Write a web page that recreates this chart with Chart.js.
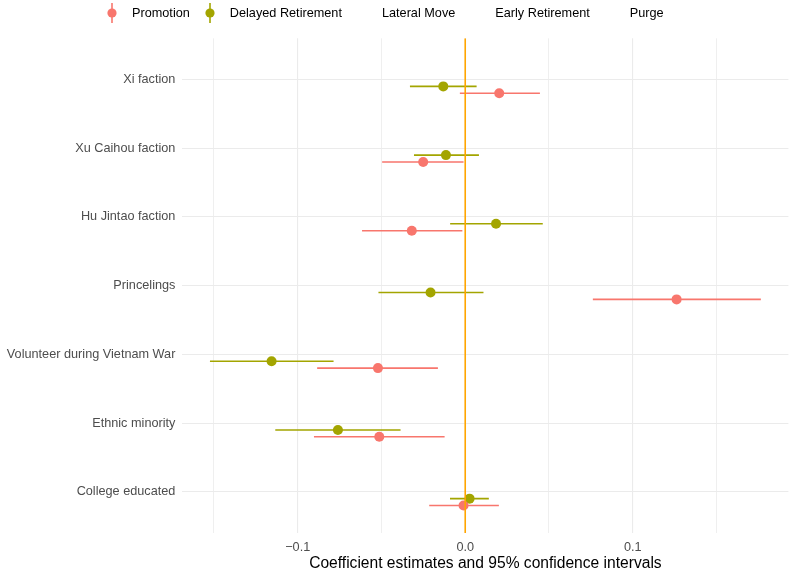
<!DOCTYPE html>
<html>
<head>
<meta charset="utf-8">
<script src="https://cdn.jsdelivr.net/npm/chart.js@4/dist/chart.umd.min.js"></script>
<style>
  html, body { margin: 0; padding: 0; background: #ffffff; }
  #wrap { position: relative; width: 790px; height: 574px; overflow: hidden; }
  #chart { position: absolute; left: 0; top: 0; }
  #legend {
    position: absolute; left: 103px; top: 3px; height: 20px;
    display: flex; align-items: center;
    font-family: "Liberation Sans", Arial, sans-serif; font-size: 12.7px; color: #000;
  }
  .item { display: flex; align-items: center; margin-right: 11px; }
  .key { width: 18px; height: 20px; margin-right: 11px; }
</style>
</head>
<body>
<div id="wrap">
  <canvas id="chart" width="790" height="574"></canvas>
  <div id="legend"></div>
</div>
<script>
// Covariates (top to bottom)
const categories = [
  'Xi faction',
  'Xu Caihou faction',
  'Hu Jintao faction',
  'Princelings',
  'Volunteer during Vietnam War',
  'Ethnic minority',
  'College educated'
];

// Outcome models, in legend order
const outcomes = ['Promotion', 'Delayed Retirement', 'Lateral Move', 'Early Retirement', 'Purge'];
const outcomeColors = ['#F8766D', '#A3A500', '#00BF7D', '#00B0F6', '#E76BF3'];

// Promotion: estimate and 95% CI
const promotionEst  = [ 0.0203, -0.0251, -0.0319,  0.1262, -0.0521, -0.0513, -0.0010];
const promotionLow  = [-0.0032, -0.0496, -0.0616,  0.0762, -0.0884, -0.0903, -0.0215];
const promotionHigh = [ 0.0446, -0.0010, -0.0017,  0.1765, -0.0163, -0.0123,  0.0201];

// Delayed retirement: estimate and 95% CI
const delayedEst  = [-0.0131, -0.0115,  0.0184, -0.0207, -0.1156, -0.0760,  0.0026];
const delayedLow  = [-0.0330, -0.0306, -0.0090, -0.0518, -0.1524, -0.1134, -0.0091];
const delayedHigh = [ 0.0068,  0.0082,  0.0463,  0.0109, -0.0786, -0.0386,  0.0141];

// Remaining outcomes have no estimates for these covariates
const lateralEst = [], lateralLow = [], lateralHigh = [];
const earlyEst = [], earlyLow = [], earlyHigh = [];
const purgeEst = [], purgeLow = [], purgeHigh = [];

// x-axis ticks (labelled every 0.1, gridlines every 0.05)
const xTicks = [-0.15, -0.1, -0.05, 0, 0.05, 0.1, 0.15];

const series = [
  { est: promotionEst, low: promotionLow, high: promotionHigh },
  { est: delayedEst,   low: delayedLow,   high: delayedHigh },
  { est: lateralEst,   low: lateralLow,   high: lateralHigh },
  { est: earlyEst,     low: earlyLow,     high: earlyHigh },
  { est: purgeEst,     low: purgeLow,     high: purgeHigh }
];

// dodge the outcomes within each covariate row
const dodgeStep = 0.1;
const dodge = k => (Math.floor(outcomes.length / 2) - k) * dodgeStep;

// x limits: data range plus 5% on each side
const allX = series.flatMap(s => s.low.concat(s.high));
const xLo = Math.min(...allX), xHi = Math.max(...allX);
const xPad = (xHi - xLo) * 0.05;

const datasets = [];
// reference line at zero
datasets.push({
  type: 'line', label: 'zero', order: 0,
  data: [{ x: 0, y: -0.6 }, { x: 0, y: categories.length - 0.4 }],
  borderColor: '#FFA500', borderWidth: 1.6, pointRadius: 0, fill: false
});
series.forEach((s, k) => {
  if (!s.est.length) return;
  const whisker = [];
  s.est.forEach((_, i) => {
    const y = i + dodge(k);
    whisker.push({ x: s.low[i], y }, { x: s.high[i], y }, { x: null, y: null });
  });
  datasets.push({
    type: 'line', label: outcomes[k] + ' CI', order: 2,
    data: whisker, borderColor: outcomeColors[k], borderWidth: 1.6,
    pointRadius: 0, spanGaps: false, fill: false
  });
  datasets.push({
    type: 'scatter', label: outcomes[k], order: 1,
    data: s.est.map((v, i) => ({ x: v, y: i + dodge(k) })),
    backgroundColor: outcomeColors[k], borderWidth: 0,
    pointRadius: 5, pointHoverRadius: 5
  });
});

const isMajor = v => Math.abs(Math.round(v * 10) - v * 10) < 1e-9;
const fmt = v => {
  if (Math.abs(v) < 1e-12) return '0.0';
  return (v < 0 ? '\u2212' : '') + Math.abs(v).toFixed(1);
};

const tickFont = { family: '"Liberation Sans", Arial, sans-serif', size: 12.7 };

new Chart(document.getElementById('chart'), {
  type: 'scatter',
  data: { datasets },
  options: {
    responsive: false,
    animation: false,
    devicePixelRatio: 1,
    layout: { autoPadding: false, padding: { left: 0, right: 1.6, top: 38.3, bottom: 0 } },
    plugins: { legend: { display: false }, tooltip: { enabled: false } },
    scales: {
      x: {
        type: 'linear', min: xLo - xPad, max: xHi + xPad,
        afterBuildTicks: sc => { sc.ticks = xTicks.map(v => ({ value: v })); },
        afterFit: sc => { sc.height = 41; },
        border: { display: false },
        grid: {
          color: '#EBEBEB', drawTicks: false,
          lineWidth: c => isMajor(c.tick.value) ? 1.1 : 0.8
        },
        ticks: {
          padding: 7, color: '#4D4D4D', font: tickFont, maxRotation: 0, autoSkip: false,
          callback: v => isMajor(v) ? fmt(v) : ''
        },
        title: {
          display: true, text: 'Coefficient estimates and 95% confidence intervals',
          color: '#000', padding: { top: 0, bottom: 1 },
          font: { family: '"Liberation Sans", Arial, sans-serif', size: 15.6 }
        }
      },
      y: {
        type: 'linear', reverse: true, min: -0.6, max: categories.length - 0.4,
        afterBuildTicks: sc => { sc.ticks = categories.map((_, i) => ({ value: i })); },
        afterFit: sc => { sc.width = 182.4; },
        border: { display: false },
        grid: { color: '#EBEBEB', lineWidth: 1.1, drawTicks: false },
        ticks: {
          padding: 7, color: '#4D4D4D', font: tickFont, autoSkip: false,
          callback: v => categories[Math.round(v)] ?? ''
        }
      }
    }
  }
});

// legend: pointrange glyph for outcomes with estimates, blank key otherwise
const legend = document.getElementById('legend');
outcomes.forEach((name, k) => {
  const item = document.createElement('div');
  item.className = 'item';
  const has = series[k].est.length > 0;
  const c = outcomeColors[k];
  item.innerHTML =
    '<svg class="key" viewBox="0 0 18 20" width="18" height="20">' +
    (has ? '<line x1="9" y1="0" x2="9" y2="20" stroke="' + c + '" stroke-width="1.6"/>' +
           '<circle cx="9" cy="10" r="4.6" fill="' + c + '"/>' : '') +
    '</svg><span>' + name + '</span>';
  legend.appendChild(item);
});
</script>
</body>
</html>
